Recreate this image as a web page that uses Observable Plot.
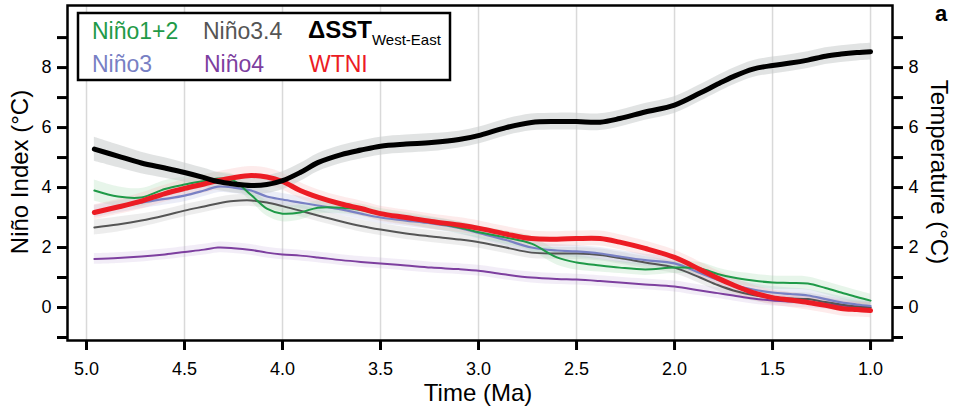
<!DOCTYPE html>
<html>
<head>
<meta charset="utf-8">
<script src="https://cdn.jsdelivr.net/npm/d3@7"></script>
<script src="https://cdn.jsdelivr.net/npm/@observablehq/plot@0.6"></script>
<style>
  html, body { margin: 0; padding: 0; background: #fff; }
  #chart { width: 957px; height: 409px; position: relative; }
</style>
</head>
<body>
<div id="chart"></div>
<script>
// ---------- data ----------
const T = [4.96, 4.84, 4.72, 4.6, 4.5, 4.4, 4.33, 4.25, 4.16, 4.08, 4.0, 3.91, 3.82, 3.7, 3.6, 3.5, 3.37, 3.24, 3.1, 2.99,
           2.86, 2.73, 2.6, 2.5, 2.38, 2.28, 2.15, 2.0, 1.87, 1.78, 1.7, 1.6, 1.5, 1.41, 1.32, 1.23, 1.15, 1.07, 1.0];

const dsst   = [5.28, 5.05, 4.82, 4.65, 4.5, 4.33, 4.2, 4.12, 4.07, 4.1, 4.23, 4.5, 4.83, 5.1, 5.25, 5.38, 5.45, 5.5, 5.6, 5.75,
                6.0, 6.17, 6.2, 6.2, 6.18, 6.3, 6.52, 6.75, 7.15, 7.45, 7.7, 7.95, 8.07, 8.15, 8.25, 8.38, 8.45, 8.5, 8.53];
const wtni   = [3.17, 3.35, 3.55, 3.8, 3.97, 4.12, 4.23, 4.33, 4.4, 4.35, 4.2, 3.9, 3.68, 3.45, 3.3, 3.13, 3.0, 2.87, 2.75, 2.63,
                2.45, 2.3, 2.28, 2.3, 2.3, 2.18, 1.97, 1.67, 1.27, 0.98, 0.75, 0.5, 0.33, 0.25, 0.17, 0.07, -0.03, -0.07, -0.1];
const nino12 = [3.9, 3.7, 3.67, 3.95, 4.1, 4.22, 4.3, 4.23, 3.75, 3.3, 3.13, 3.17, 3.33, 3.33, 3.25, 3.1, 2.97, 2.83, 2.67, 2.5,
                2.33, 2.13, 1.67, 1.5, 1.4, 1.33, 1.27, 1.33, 1.3, 1.12, 1.0, 0.9, 0.83, 0.82, 0.8, 0.65, 0.5, 0.35, 0.23];
const nino3  = [3.2, 3.35, 3.5, 3.62, 3.73, 3.9, 4.03, 4.0, 3.9, 3.7, 3.6, 3.5, 3.4, 3.27, 3.13, 3.0, 2.9, 2.8, 2.65, 2.47,
                2.25, 2.0, 1.9, 1.87, 1.8, 1.7, 1.58, 1.47, 1.15, 0.93, 0.75, 0.6, 0.5, 0.45, 0.4, 0.28, 0.17, 0.1, 0.05];
const nino34 = [2.67, 2.77, 2.9, 3.07, 3.23, 3.37, 3.47, 3.55, 3.57, 3.5, 3.38, 3.23, 3.07, 2.87, 2.72, 2.6, 2.47, 2.37, 2.27, 2.17,
                2.0, 1.83, 1.8, 1.8, 1.75, 1.65, 1.5, 1.33, 1.0, 0.75, 0.57, 0.42, 0.33, 0.3, 0.28, 0.18, 0.1, 0.03, 0.0];
const nino4  = [1.62, 1.65, 1.7, 1.77, 1.85, 1.93, 2.0, 1.98, 1.92, 1.83, 1.77, 1.73, 1.67, 1.58, 1.52, 1.47, 1.4, 1.33, 1.28, 1.22,
                1.1, 1.0, 0.95, 0.93, 0.88, 0.83, 0.77, 0.7, 0.57, 0.48, 0.4, 0.3, 0.23, 0.2, 0.17, 0.12, 0.07, 0.03, 0.0];

// uncertainty band half-widths
const dsstErr   = [0.4, 0.38, 0.36, 0.34, 0.32, 0.31, 0.3, 0.3, 0.3, 0.3, 0.3, 0.3, 0.3, 0.3, 0.3, 0.3, 0.3, 0.3, 0.28, 0.28,
                   0.28, 0.28, 0.28, 0.28, 0.28, 0.28, 0.28, 0.28, 0.28, 0.28, 0.28, 0.28, 0.28, 0.28, 0.28, 0.28, 0.28, 0.28, 0.28];
const wtniErr   = [0.25, 0.25, 0.27, 0.28, 0.3, 0.3, 0.3, 0.3, 0.3, 0.3, 0.28, 0.27, 0.25, 0.25, 0.25, 0.25, 0.25, 0.25, 0.25, 0.25,
                   0.25, 0.25, 0.25, 0.25, 0.25, 0.25, 0.25, 0.25, 0.25, 0.25, 0.25, 0.25, 0.25, 0.25, 0.25, 0.25, 0.25, 0.25, 0.25];
const nino12Err = [0.35, 0.33, 0.3, 0.28, 0.25, 0.22, 0.2, 0.2, 0.22, 0.25, 0.27, 0.25, 0.22, 0.2, 0.2, 0.2, 0.2, 0.2, 0.2, 0.2,
                   0.22, 0.25, 0.25, 0.25, 0.22, 0.2, 0.2, 0.2, 0.2, 0.2, 0.2, 0.22, 0.22, 0.22, 0.22, 0.22, 0.22, 0.22, 0.22];
const nino3Err  = [0.2, 0.2, 0.2, 0.2, 0.2, 0.2, 0.2, 0.2, 0.2, 0.2, 0.2, 0.2, 0.2, 0.2, 0.2, 0.2, 0.2, 0.2, 0.2, 0.2,
                   0.2, 0.2, 0.2, 0.2, 0.2, 0.2, 0.2, 0.2, 0.2, 0.2, 0.2, 0.2, 0.2, 0.2, 0.2, 0.2, 0.2, 0.2, 0.2];
const nino34Err = [0.25, 0.25, 0.22, 0.2, 0.2, 0.2, 0.2, 0.2, 0.2, 0.2, 0.2, 0.2, 0.2, 0.2, 0.2, 0.2, 0.2, 0.2, 0.2, 0.2,
                   0.2, 0.2, 0.2, 0.2, 0.2, 0.2, 0.2, 0.2, 0.2, 0.2, 0.2, 0.2, 0.2, 0.2, 0.2, 0.2, 0.2, 0.2, 0.2];
const nino4Err  = [0.18, 0.18, 0.18, 0.18, 0.18, 0.18, 0.18, 0.18, 0.18, 0.18, 0.18, 0.18, 0.18, 0.18, 0.18, 0.18, 0.18, 0.18, 0.18, 0.18,
                   0.18, 0.18, 0.18, 0.18, 0.18, 0.18, 0.18, 0.18, 0.18, 0.18, 0.18, 0.18, 0.18, 0.18, 0.18, 0.18, 0.18, 0.18, 0.18];

const xTicks = [5.0, 4.5, 4.0, 3.5, 3.0, 2.5, 2.0, 1.5, 1.0];
const yTicks = [0, 2, 4, 6, 8];
const yMinorTicks = [-1, 1, 3, 5, 7, 9];

// ---------- styles ----------
const seriesDefs = [
  {name: "Niño4",   v: nino4,  e: nino4Err,  color: "#7d3f9f", band: "#b89ad0", bandOpacity: 0.18, width: 2},
  {name: "Niño3.4", v: nino34, e: nino34Err, color: "#555555", band: "#b8b8b8", bandOpacity: 0.25, width: 2},
  {name: "Niño3",   v: nino3,  e: nino3Err,  color: "#7880c4", band: "#b0b6e0", bandOpacity: 0.25, width: 2.2},
  {name: "Niño1+2", v: nino12, e: nino12Err, color: "#1f9a48", band: "#9fd8ad", bandOpacity: 0.25, width: 2},
  {name: "WTNI",    v: wtni,   e: wtniErr,   color: "#ec1c24", band: "#f5a3a5", bandOpacity: 0.22, width: 5},
  {name: "dSST",    v: dsst,   e: dsstErr,   color: "#000000", band: "#c9cccc", bandOpacity: 0.55, width: 5}
];

const rows = seriesDefs.flatMap(s => T.map((t, i) => ({s: s.name, t, v: s.v[i], lo: s.v[i] - s.e[i], hi: s.v[i] + s.e[i]})));
const curve = "catmull-rom";

const bandMarks = seriesDefs.map(s => Plot.areaY(rows.filter(r => r.s === s.name),
  {x: "t", y1: "lo", y2: "hi", fill: s.band, fillOpacity: s.bandOpacity, curve}));
const lineMarks = seriesDefs.map(s => Plot.lineY(rows.filter(r => r.s === s.name),
  {x: "t", y: "v", stroke: s.color, strokeWidth: s.width, curve, strokeLinecap: "round", strokeLinejoin: "round"}));

const fontFamily = "'Liberation Sans', Arial, Helvetica, sans-serif";

const svg = Plot.plot({
  width: 957,
  height: 409,
  marginLeft: 67,
  marginRight: 65,
  marginTop: 5,
  marginBottom: 69,
  style: {fontFamily, fontSize: "18px", color: "#000", background: "#fff", overflow: "visible"},
  x: {domain: [5.097, 0.888]},
  y: {domain: [-1.1, 10.07]},
  marks: [
    Plot.gridX(xTicks, {stroke: "#d9d9d9", strokeOpacity: 1, strokeWidth: 1.5}),
    ...bandMarks,
    ...lineMarks,
    Plot.frame({stroke: "#000", strokeWidth: 2.5}),
    Plot.axisX(xTicks, {anchor: "bottom", tickSize: 10, tickPadding: 12, strokeWidth: 3, tickFormat: d3.format(".1f"), label: null, fontSize: 18}),
    Plot.axisY(yTicks, {anchor: "left", tickSize: 10, tickPadding: 6, strokeWidth: 3, label: null, fontSize: 18}),
    Plot.axisY(yMinorTicks, {anchor: "left", tickSize: 10, strokeWidth: 3, tickFormat: () => "", label: null}),
    Plot.axisY(yTicks, {anchor: "right", tickSize: 10, tickPadding: 6, strokeWidth: 3, label: null, fontSize: 18}),
    Plot.axisY(yMinorTicks, {anchor: "right", tickSize: 10, strokeWidth: 3, tickFormat: () => "", label: null})
  ]
});

document.getElementById("chart").appendChild(svg);

// ---------- titles, legend, panel letter ----------
const g = d3.select(svg).append("g").attr("font-family", fontFamily).attr("text-anchor", "start");

g.append("text").attr("transform", "translate(478,401)").attr("text-anchor", "middle")
  .attr("font-size", 24).text("Time (Ma)");
g.append("text").attr("transform", "translate(28,172) rotate(-90)").attr("text-anchor", "middle")
  .attr("font-size", 24).text("Niño Index (°C)");
g.append("text").attr("transform", "translate(931,172) rotate(90)").attr("text-anchor", "middle")
  .attr("font-size", 24).text("Temperature (°C)");
g.append("text").attr("x", 935).attr("y", 21).attr("font-size", 22).attr("font-weight", "bold").text("a");

// legend box
g.append("rect").attr("x", 78).attr("y", 13).attr("width", 372).attr("height", 67)
  .attr("fill", "#fff").attr("stroke", "#000").attr("stroke-width", 2.5);
const legendItems = [
  {text: "Niño1+2", color: "#1f9a48", x: 92,  y: 39},
  {text: "Niño3.4", color: "#555555", x: 203, y: 39},
  {text: "Niño3",   color: "#7880c4", x: 92,  y: 72},
  {text: "Niño4",   color: "#7d3f9f", x: 204, y: 72},
  {text: "WTNI",    color: "#ec1c24", x: 309, y: 72}
];
legendItems.forEach(d => g.append("text").attr("x", d.x).attr("y", d.y).attr("font-size", 23)
  .attr("text-anchor", "start").attr("fill", d.color).text(d.text));
const dt = g.append("text").attr("x", 308).attr("y", 38).attr("font-size", 24).attr("font-weight", "bold")
  .attr("text-anchor", "start").attr("fill", "#000");
dt.append("tspan").text("ΔSST");
dt.append("tspan").attr("font-size", 15).attr("font-weight", "normal").attr("dy", 7).text("West-East");
</script>
</body>
</html>
